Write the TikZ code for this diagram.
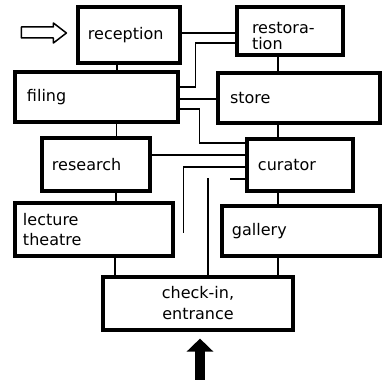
\documentclass[tikz,border=0pt]{standalone}
\usepackage{fontspec}
\setmainfont{DejaVu Sans}
\usetikzlibrary{arrows.meta}
\tikzset{
  room/.style={draw=black,line width=3.2pt,align=left,inner ysep=0pt,
    font=\fontsize{16}{20}\selectfont},
  link/.style={draw=black,line width=1.6pt},
  entryflow/.style={-{Triangle[length=13pt,width=26pt]},line width=10pt,draw=black},
  inflow/.style={draw=black,line width=1.5pt,line join=round}
}
\begin{document}
\begin{tikzpicture}[x=1pt,y=-1pt]
  \useasboundingbox (0,0) rectangle (384,382);
  % rooms
  \node[room,text width=82pt,inner xsep=10pt,minimum height=56pt] (reception) at (129,35) {reception};
  \node[room,text width=76pt,inner xsep=15pt,minimum height=48pt] (restoration) at (290,31) {\rule{0pt}{22pt}restora-\\[-4pt]tion};
  \node[room,text width=139pt,inner xsep=12pt,minimum height=50pt] (filing) at (96.5,97) {filing};
  \node[room,text width=138pt,inner xsep=12pt,minimum height=50pt] (store) at (299,98) {store};
  \node[room,text width=88pt,inner xsep=10pt,minimum height=53pt] (research) at (96,164.5) {research};
  \node[room,text width=84pt,inner xsep=11pt,minimum height=52pt] (curator) at (300,165) {curator};
  \node[room,text width=142pt,inner xsep=8pt,minimum height=53pt] (lecture) at (94,229.5) {lecture\\theatre};
  \node[room,text width=138pt,inner xsep=10pt,minimum height=50pt] (gallery) at (301,231) {gallery};
  \node[room,text width=170pt,inner xsep=10pt,minimum height=53pt,align=center] (checkin) at (198,303.5) {check-in,\\[1pt]entrance};

  % links
  \draw[link] ([yshift=2pt]reception.east) -- ([yshift=2pt]reception.east -| restoration.west);
  \draw[link] ([xshift=-12pt]reception.south) -- ([xshift=-12pt]reception.south |- filing.north);
  \draw[link] ([xshift=-12pt]restoration.south) -- ([xshift=-12pt]restoration.south |- store.north);
  \draw[link] ([yshift=-12pt]restoration.west) -- ++(-40,0) |- ([yshift=10pt]filing.east);
  \draw[link] ([yshift=-2pt]filing.east) -- ([yshift=-2pt]filing.east -| store.west);
  \draw[link] ([yshift=-12pt]filing.east) -- ++(20,0) |- ([yshift=22pt]curator.west);
  \draw[link] ([xshift=20pt]filing.south) -- ([xshift=20pt]filing.south |- research.north);
  \draw[link] ([xshift=-21pt]store.south) -- ([xshift=-21pt]store.south |- curator.north);
  \draw[link] ([yshift=9.5pt]research.east) -- ([yshift=9.5pt]research.east -| curator.west);
  \draw[link] ([yshift=-2pt]curator.west) -- ++(-62,0) -- ++(0,66);
  \draw[link] ([yshift=-14pt]curator.west) -- ++(-15,0);
  \draw[link] ([xshift=10pt]checkin.north) -- ++(0,-97);
  \draw[link] ([xshift=20pt]research.south) -- ([xshift=20pt]research.south |- lecture.north);
  \draw[link] ([xshift=-22pt]curator.south) -- ([xshift=-22pt]curator.south |- gallery.north);
  \draw[link] ([xshift=21pt]lecture.south) -- ([xshift=21pt]lecture.south |- checkin.north);
  \draw[link] ([xshift=-23pt]gallery.south) -- ([xshift=-23pt]gallery.south |- checkin.north);

  % way in
  \coordinate (intip) at ([xshift=-10pt,yshift=2pt]reception.west);
  \draw[inflow] (intip) -- ++(-13,-10) -- ++(0,4) -- ++(-32,0) -- ++(0,11)
    -- ++(32,0) -- ++(0,5) -- cycle;
  \draw[entryflow] ([xshift=2pt,yshift=-48pt]checkin.south) -- ([xshift=2pt,yshift=-7pt]checkin.south);
\end{tikzpicture}
\end{document}
